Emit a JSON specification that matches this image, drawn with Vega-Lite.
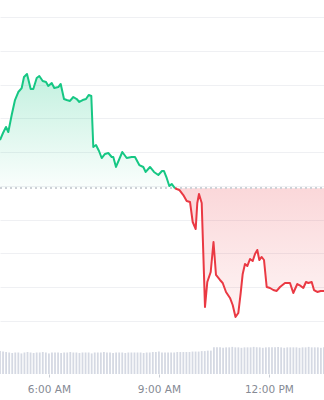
{
  "$schema": "https://vega.github.io/schema/vega-lite/v6.json",
  "width": 324,
  "height": 374,
  "autosize": {"type": "none"},
  "padding": {"left": 0, "right": 0, "top": 0, "bottom": 26},
  "background": "white",
  "config": {"view": {"stroke": null}},
  "datasets": {
    "price": [
      {"t": "2024-05-14T04:40:00", "p": 1.02680, "s": "up"},
      {"t": "2024-05-14T04:44:55", "p": 1.02784, "s": "up"},
      {"t": "2024-05-14T04:49:49", "p": 1.02873, "s": "up"},
      {"t": "2024-05-14T04:53:35", "p": 1.02799, "s": "up"},
      {"t": "2024-05-14T04:59:08", "p": 1.03051, "s": "up"},
      {"t": "2024-05-14T05:04:32", "p": 1.03273, "s": "up"},
      {"t": "2024-05-14T05:09:56", "p": 1.03392, "s": "up"},
      {"t": "2024-05-14T05:15:30", "p": 1.03451, "s": "up"},
      {"t": "2024-05-14T05:19:16", "p": 1.03615, "s": "up"},
      {"t": "2024-05-14T05:24:10", "p": 1.03659, "s": "up"},
      {"t": "2024-05-14T05:30:14", "p": 1.03437, "s": "up"},
      {"t": "2024-05-14T05:34:29", "p": 1.03437, "s": "up"},
      {"t": "2024-05-14T05:40:03", "p": 1.03600, "s": "up"},
      {"t": "2024-05-14T05:44:18", "p": 1.03629, "s": "up"},
      {"t": "2024-05-14T05:49:52", "p": 1.03555, "s": "up"},
      {"t": "2024-05-14T05:55:16", "p": 1.03540, "s": "up"},
      {"t": "2024-05-14T05:59:01", "p": 1.03481, "s": "up"},
      {"t": "2024-05-14T06:04:35", "p": 1.03526, "s": "up"},
      {"t": "2024-05-14T06:08:50", "p": 1.03451, "s": "up"},
      {"t": "2024-05-14T06:15:23", "p": 1.03466, "s": "up"},
      {"t": "2024-05-14T06:19:19", "p": 1.03511, "s": "up"},
      {"t": "2024-05-14T06:24:43", "p": 1.03288, "s": "up"},
      {"t": "2024-05-14T06:29:08", "p": 1.03273, "s": "up"},
      {"t": "2024-05-14T06:34:32", "p": 1.03259, "s": "up"},
      {"t": "2024-05-14T06:39:56", "p": 1.03318, "s": "up"},
      {"t": "2024-05-14T06:45:29", "p": 1.03288, "s": "up"},
      {"t": "2024-05-14T06:49:44", "p": 1.03244, "s": "up"},
      {"t": "2024-05-14T06:55:18", "p": 1.03273, "s": "up"},
      {"t": "2024-05-14T07:00:42", "p": 1.03288, "s": "up"},
      {"t": "2024-05-14T07:05:07", "p": 1.03348, "s": "up"},
      {"t": "2024-05-14T07:09:23", "p": 1.03333, "s": "up"},
      {"t": "2024-05-14T07:12:39", "p": 1.02576, "s": "up"},
      {"t": "2024-05-14T07:17:04", "p": 1.02606, "s": "up"},
      {"t": "2024-05-14T07:21:58", "p": 1.02517, "s": "up"},
      {"t": "2024-05-14T07:26:23", "p": 1.02413, "s": "up"},
      {"t": "2024-05-14T07:31:47", "p": 1.02473, "s": "up"},
      {"t": "2024-05-14T07:37:11", "p": 1.02487, "s": "up"},
      {"t": "2024-05-14T07:42:45", "p": 1.02428, "s": "up"},
      {"t": "2024-05-14T07:45:22", "p": 1.02428, "s": "up"},
      {"t": "2024-05-14T07:49:47", "p": 1.02280, "s": "up"},
      {"t": "2024-05-14T08:00:06", "p": 1.02502, "s": "up"},
      {"t": "2024-05-14T08:07:17", "p": 1.02413, "s": "up"},
      {"t": "2024-05-14T08:15:28", "p": 1.02428, "s": "up"},
      {"t": "2024-05-14T08:20:52", "p": 1.02428, "s": "up"},
      {"t": "2024-05-14T08:27:55", "p": 1.02309, "s": "up"},
      {"t": "2024-05-14T08:34:27", "p": 1.02280, "s": "up"},
      {"t": "2024-05-14T08:38:23", "p": 1.02206, "s": "up"},
      {"t": "2024-05-14T08:45:25", "p": 1.02280, "s": "up"},
      {"t": "2024-05-14T08:51:58", "p": 1.02206, "s": "up"},
      {"t": "2024-05-14T08:59:00", "p": 1.02161, "s": "up"},
      {"t": "2024-05-14T09:05:03", "p": 1.02220, "s": "up"},
      {"t": "2024-05-14T09:08:19", "p": 1.02220, "s": "up"},
      {"t": "2024-05-14T09:12:44", "p": 1.02117, "s": "up"},
      {"t": "2024-05-14T09:16:59", "p": 1.01998, "s": "up"},
      {"t": "2024-05-14T09:20:55", "p": 1.02028, "s": "up"},
      {"t": "2024-05-14T09:26:19", "p": 1.01964, "s": "up"},
      {"t": "2024-05-14T09:26:19", "p": 1.01964, "s": "down"},
      {"t": "2024-05-14T09:29:06", "p": 1.01953, "s": "down"},
      {"t": "2024-05-14T09:33:21", "p": 1.01939, "s": "down"},
      {"t": "2024-05-14T09:39:54", "p": 1.01864, "s": "down"},
      {"t": "2024-05-14T09:45:28", "p": 1.01775, "s": "down"},
      {"t": "2024-05-14T09:50:52", "p": 1.01761, "s": "down"},
      {"t": "2024-05-14T09:55:17", "p": 1.01464, "s": "down"},
      {"t": "2024-05-14T10:00:11", "p": 1.01360, "s": "down"},
      {"t": "2024-05-14T10:02:48", "p": 1.01746, "s": "down"},
      {"t": "2024-05-14T10:05:35", "p": 1.01879, "s": "down"},
      {"t": "2024-05-14T10:10:00", "p": 1.01746, "s": "down"},
      {"t": "2024-05-14T10:12:37", "p": 1.01004, "s": "down"},
      {"t": "2024-05-14T10:15:24", "p": 1.00203, "s": "down"},
      {"t": "2024-05-14T10:19:10", "p": 1.00574, "s": "down"},
      {"t": "2024-05-14T10:24:44", "p": 1.00722, "s": "down"},
      {"t": "2024-05-14T10:29:19", "p": 1.01167, "s": "down"},
      {"t": "2024-05-14T10:33:24", "p": 1.00678, "s": "down"},
      {"t": "2024-05-14T10:39:56", "p": 1.00604, "s": "down"},
      {"t": "2024-05-14T10:44:22", "p": 1.00559, "s": "down"},
      {"t": "2024-05-14T10:49:46", "p": 1.00426, "s": "down"},
      {"t": "2024-05-14T10:56:18", "p": 1.00337, "s": "down"},
      {"t": "2024-05-14T11:00:43", "p": 1.00233, "s": "down"},
      {"t": "2024-05-14T11:05:18", "p": 1.00055, "s": "down"},
      {"t": "2024-05-14T11:09:53", "p": 1.00114, "s": "down"},
      {"t": "2024-05-14T11:13:49", "p": 1.00411, "s": "down"},
      {"t": "2024-05-14T11:17:05", "p": 1.00693, "s": "down"},
      {"t": "2024-05-14T11:20:50", "p": 1.00841, "s": "down"},
      {"t": "2024-05-14T11:24:37", "p": 1.00811, "s": "down"},
      {"t": "2024-05-14T11:29:02", "p": 1.00915, "s": "down"},
      {"t": "2024-05-14T11:33:26", "p": 1.00885, "s": "down"},
      {"t": "2024-05-14T11:37:13", "p": 1.00989, "s": "down"},
      {"t": "2024-05-14T11:40:58", "p": 1.01049, "s": "down"},
      {"t": "2024-05-14T11:44:14", "p": 1.00900, "s": "down"},
      {"t": "2024-05-14T11:48:10", "p": 1.00945, "s": "down"},
      {"t": "2024-05-14T11:51:56", "p": 1.00900, "s": "down"},
      {"t": "2024-05-14T11:56:21", "p": 1.00500, "s": "down"},
      {"t": "2024-05-14T12:01:45", "p": 1.00485, "s": "down"},
      {"t": "2024-05-14T12:07:09", "p": 1.00455, "s": "down"},
      {"t": "2024-05-14T12:12:43", "p": 1.00441, "s": "down"},
      {"t": "2024-05-14T12:18:07", "p": 1.00500, "s": "down"},
      {"t": "2024-05-14T12:26:17", "p": 1.00559, "s": "down"},
      {"t": "2024-05-14T12:34:28", "p": 1.00559, "s": "down"},
      {"t": "2024-05-14T12:39:52", "p": 1.00411, "s": "down"},
      {"t": "2024-05-14T12:46:25", "p": 1.00544, "s": "down"},
      {"t": "2024-05-14T12:51:59", "p": 1.00515, "s": "down"},
      {"t": "2024-05-14T12:56:14", "p": 1.00485, "s": "down"},
      {"t": "2024-05-14T13:00:39", "p": 1.00574, "s": "down"},
      {"t": "2024-05-14T13:04:25", "p": 1.00559, "s": "down"},
      {"t": "2024-05-14T13:09:58", "p": 1.00574, "s": "down"},
      {"t": "2024-05-14T13:13:44", "p": 1.00455, "s": "down"},
      {"t": "2024-05-14T13:19:08", "p": 1.00426, "s": "down"},
      {"t": "2024-05-14T13:24:42", "p": 1.00441, "s": "down"},
      {"t": "2024-05-14T13:30:06", "p": 1.00441, "s": "down"}
    ],
    "volume": [
      {"t": "2024-05-14T04:40:00", "v": 24.5}, {"t": "2024-05-14T04:45:00", "v": 24}, {"t": "2024-05-14T04:50:00", "v": 23.5}, {"t": "2024-05-14T04:55:00", "v": 23},
      {"t": "2024-05-14T05:00:00", "v": 22.5}, {"t": "2024-05-14T05:05:00", "v": 23}, {"t": "2024-05-14T05:10:00", "v": 23}, {"t": "2024-05-14T05:15:00", "v": 22},
      {"t": "2024-05-14T05:20:00", "v": 23}, {"t": "2024-05-14T05:25:00", "v": 23.5}, {"t": "2024-05-14T05:30:00", "v": 23}, {"t": "2024-05-14T05:35:00", "v": 22.5},
      {"t": "2024-05-14T05:40:00", "v": 23}, {"t": "2024-05-14T05:45:00", "v": 23}, {"t": "2024-05-14T05:50:00", "v": 23.5}, {"t": "2024-05-14T05:55:00", "v": 23},
      {"t": "2024-05-14T06:00:00", "v": 22}, {"t": "2024-05-14T06:05:00", "v": 23}, {"t": "2024-05-14T06:10:00", "v": 23}, {"t": "2024-05-14T06:15:00", "v": 23},
      {"t": "2024-05-14T06:20:00", "v": 22.5}, {"t": "2024-05-14T06:25:00", "v": 23}, {"t": "2024-05-14T06:30:00", "v": 23}, {"t": "2024-05-14T06:35:00", "v": 23.5},
      {"t": "2024-05-14T06:40:00", "v": 23}, {"t": "2024-05-14T06:45:00", "v": 23}, {"t": "2024-05-14T06:50:00", "v": 22.5}, {"t": "2024-05-14T06:55:00", "v": 23},
      {"t": "2024-05-14T07:00:00", "v": 23}, {"t": "2024-05-14T07:05:00", "v": 23}, {"t": "2024-05-14T07:10:00", "v": 22}, {"t": "2024-05-14T07:15:00", "v": 23},
      {"t": "2024-05-14T07:20:00", "v": 23}, {"t": "2024-05-14T07:25:00", "v": 23}, {"t": "2024-05-14T07:30:00", "v": 23.5}, {"t": "2024-05-14T07:35:00", "v": 23},
      {"t": "2024-05-14T07:40:00", "v": 23}, {"t": "2024-05-14T07:45:00", "v": 22.5}, {"t": "2024-05-14T07:50:00", "v": 23}, {"t": "2024-05-14T07:55:00", "v": 23},
      {"t": "2024-05-14T08:00:00", "v": 23}, {"t": "2024-05-14T08:05:00", "v": 22.5}, {"t": "2024-05-14T08:10:00", "v": 23}, {"t": "2024-05-14T08:15:00", "v": 23},
      {"t": "2024-05-14T08:20:00", "v": 23}, {"t": "2024-05-14T08:25:00", "v": 23}, {"t": "2024-05-14T08:30:00", "v": 23}, {"t": "2024-05-14T08:35:00", "v": 22.5},
      {"t": "2024-05-14T08:40:00", "v": 23}, {"t": "2024-05-14T08:45:00", "v": 23}, {"t": "2024-05-14T08:50:00", "v": 23.5}, {"t": "2024-05-14T08:55:00", "v": 23.5},
      {"t": "2024-05-14T09:00:00", "v": 24}, {"t": "2024-05-14T09:05:00", "v": 23}, {"t": "2024-05-14T09:10:00", "v": 23}, {"t": "2024-05-14T09:15:00", "v": 23},
      {"t": "2024-05-14T09:20:00", "v": 23}, {"t": "2024-05-14T09:25:00", "v": 23}, {"t": "2024-05-14T09:30:00", "v": 23.5}, {"t": "2024-05-14T09:35:00", "v": 23.5},
      {"t": "2024-05-14T09:40:00", "v": 23.5}, {"t": "2024-05-14T09:45:00", "v": 23.5}, {"t": "2024-05-14T09:50:00", "v": 23.5}, {"t": "2024-05-14T09:55:00", "v": 24},
      {"t": "2024-05-14T10:00:00", "v": 24}, {"t": "2024-05-14T10:05:00", "v": 24}, {"t": "2024-05-14T10:10:00", "v": 24.5}, {"t": "2024-05-14T10:15:00", "v": 24.5},
      {"t": "2024-05-14T10:20:00", "v": 25}, {"t": "2024-05-14T10:25:00", "v": 25}, {"t": "2024-05-14T10:30:00", "v": 28.5}, {"t": "2024-05-14T10:35:00", "v": 28.5},
      {"t": "2024-05-14T10:40:00", "v": 28.5}, {"t": "2024-05-14T10:45:00", "v": 28}, {"t": "2024-05-14T10:50:00", "v": 28.5}, {"t": "2024-05-14T10:55:00", "v": 28.5},
      {"t": "2024-05-14T11:00:00", "v": 29}, {"t": "2024-05-14T11:05:00", "v": 28.5}, {"t": "2024-05-14T11:10:00", "v": 28.5}, {"t": "2024-05-14T11:15:00", "v": 28},
      {"t": "2024-05-14T11:20:00", "v": 28.5}, {"t": "2024-05-14T11:25:00", "v": 28.5}, {"t": "2024-05-14T11:30:00", "v": 28.5}, {"t": "2024-05-14T11:35:00", "v": 29},
      {"t": "2024-05-14T11:40:00", "v": 28.5}, {"t": "2024-05-14T11:45:00", "v": 28.5}, {"t": "2024-05-14T11:50:00", "v": 28}, {"t": "2024-05-14T11:55:00", "v": 28.5},
      {"t": "2024-05-14T12:00:00", "v": 28.5}, {"t": "2024-05-14T12:05:00", "v": 28.5}, {"t": "2024-05-14T12:10:00", "v": 28.5}, {"t": "2024-05-14T12:15:00", "v": 29},
      {"t": "2024-05-14T12:20:00", "v": 28.5}, {"t": "2024-05-14T12:25:00", "v": 28}, {"t": "2024-05-14T12:30:00", "v": 28.5}, {"t": "2024-05-14T12:35:00", "v": 28.5},
      {"t": "2024-05-14T12:40:00", "v": 28.5}, {"t": "2024-05-14T12:45:00", "v": 28.5}, {"t": "2024-05-14T12:50:00", "v": 28}, {"t": "2024-05-14T12:55:00", "v": 28.5},
      {"t": "2024-05-14T13:00:00", "v": 28.5}, {"t": "2024-05-14T13:05:00", "v": 29}, {"t": "2024-05-14T13:10:00", "v": 28.5}, {"t": "2024-05-14T13:15:00", "v": 28.5},
      {"t": "2024-05-14T13:20:00", "v": 28.5}, {"t": "2024-05-14T13:25:00", "v": 28}, {"t": "2024-05-14T13:30:00", "v": 28.5}
    ]
  },
  "encoding": {
    "x": {
      "field": "t",
      "type": "temporal",
      "scale": {
        "padding": 0,
        "domain": [
          {"year": 2024, "month": 5, "date": 14, "hours": 4, "minutes": 40},
          {"year": 2024, "month": 5, "date": 14, "hours": 13, "minutes": 30, "seconds": 6}
        ]
      },
      "axis": {
        "title": null,
        "format": "%-I:%M %p",
        "values": [
          {"year": 2024, "month": 5, "date": 14, "hours": 6},
          {"year": 2024, "month": 5, "date": 14, "hours": 9},
          {"year": 2024, "month": 5, "date": 14, "hours": 12}
        ],
        "domain": false,
        "grid": false,
        "tickColor": "#c8ccd4",
        "tickSize": 3,
        "labelColor": "#858a94",
        "labelFont": "DejaVu Sans",
        "labelFontSize": 10.5,
        "labelPadding": 7
      }
    }
  },
  "layer": [
    {
      "data": {"name": "volume"},
      "mark": {"type": "bar", "size": 1.8, "color": "#d5d9e3"},
      "encoding": {
        "y": {"field": "v", "type": "quantitative", "scale": {"domain": [0, 400]}, "axis": null}
      }
    },
    {
      "data": {"name": "price"},
      "encoding": {
        "y": {
          "field": "p",
          "type": "quantitative",
          "scale": {"domain": [0.992094, 1.047567], "zero": false, "nice": false},
          "axis": {
            "title": null,
            "labels": false,
            "ticks": false,
            "domain": false,
            "grid": true,
            "gridColor": "#eff0f3",
            "values": [1.000, 1.005, 1.010, 1.015, 1.020, 1.025, 1.030, 1.035, 1.040, 1.045]
          }
        }
      },
      "layer": [
        {
          "transform": [{"filter": "datum.s === 'up'"}],
          "mark": {
            "type": "area",
            "color": {
              "gradient": "linear", "x1": 0, "y1": 0, "x2": 0, "y2": 1,
              "stops": [
                {"offset": 0, "color": "rgba(22,199,132,0.26)"},
                {"offset": 1, "color": "rgba(22,199,132,0.02)"}
              ]
            }
          },
          "encoding": {"y2": {"datum": 1.019638}}
        },
        {
          "transform": [{"filter": "datum.s === 'down'"}],
          "mark": {
            "type": "area",
            "color": {
              "gradient": "linear", "x1": 0, "y1": 0, "x2": 0, "y2": 1,
              "stops": [
                {"offset": 0, "color": "rgba(234,57,67,0.2)"},
                {"offset": 1, "color": "rgba(234,57,67,0.05)"}
              ]
            }
          },
          "encoding": {"y2": {"datum": 1.019638}}
        },
        {
          "mark": {"type": "rule", "color": "#cdd0d6", "strokeDash": [2, 3], "strokeWidth": 1},
          "encoding": {"y": {"datum": 1.019638}, "x": {"value": 0}, "x2": {"value": 324}}
        },
        {
          "mark": {"type": "line", "strokeWidth": 2, "strokeJoin": "round"},
          "encoding": {
            "color": {
              "field": "s",
              "type": "nominal",
              "scale": {"domain": ["up", "down"], "range": ["#16c784", "#ea3943"]},
              "legend": null
            }
          }
        }
      ]
    }
  ],
  "resolve": {"scale": {"y": "independent"}}
}
